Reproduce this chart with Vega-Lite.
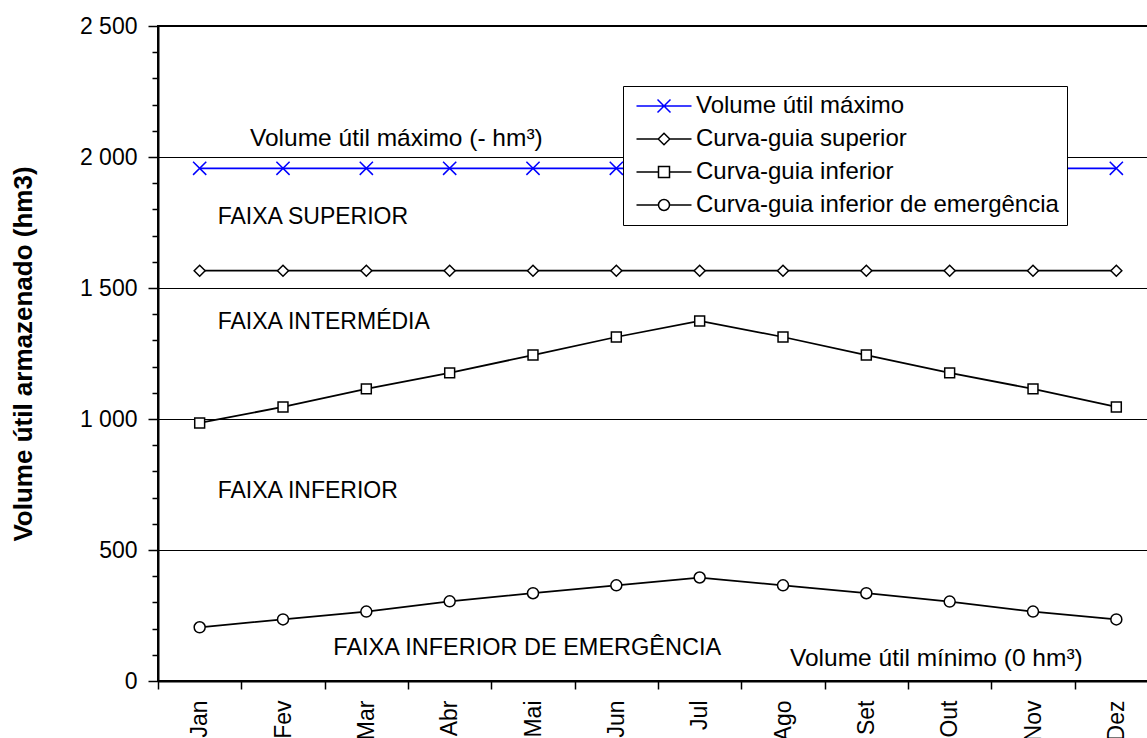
{
  "$schema": "https://vega.github.io/schema/vega-lite/v6.json",
  "width": 1000,
  "height": 655,
  "autosize": {"type": "none"},
  "padding": {"left": 158, "top": 26, "right": 0, "bottom": 60},
  "background": "white",
  "config": {
    "font": "Liberation Sans",
    "view": {"stroke": "black", "strokeWidth": 2},
    "legend": {
      "orient": "none", "legendX": 465, "legendY": 60, "title": null,
      "fillColor": "white", "strokeColor": "black", "padding": 8,
      "labelFontSize": 24, "labelColor": "black", "labelLimit": 600, "rowPadding": 9,
      "symbolOffset": 21, "labelOffset": 20, "symbolSize": 100, "symbolStrokeWidth": 1.5
    }
  },
  "datasets": {
    "curvas": [
      {"mes": "Jan", "serie": "Volume útil máximo", "valor": 1957},
      {"mes": "Fev", "serie": "Volume útil máximo", "valor": 1957},
      {"mes": "Mar", "serie": "Volume útil máximo", "valor": 1957},
      {"mes": "Abr", "serie": "Volume útil máximo", "valor": 1957},
      {"mes": "Mai", "serie": "Volume útil máximo", "valor": 1957},
      {"mes": "Jun", "serie": "Volume útil máximo", "valor": 1957},
      {"mes": "Jul", "serie": "Volume útil máximo", "valor": 1957},
      {"mes": "Ago", "serie": "Volume útil máximo", "valor": 1957},
      {"mes": "Set", "serie": "Volume útil máximo", "valor": 1957},
      {"mes": "Out", "serie": "Volume útil máximo", "valor": 1957},
      {"mes": "Nov", "serie": "Volume útil máximo", "valor": 1957},
      {"mes": "Dez", "serie": "Volume útil máximo", "valor": 1957},
      {"mes": "Jan", "serie": "Curva-guia superior", "valor": 1566},
      {"mes": "Fev", "serie": "Curva-guia superior", "valor": 1566},
      {"mes": "Mar", "serie": "Curva-guia superior", "valor": 1566},
      {"mes": "Abr", "serie": "Curva-guia superior", "valor": 1566},
      {"mes": "Mai", "serie": "Curva-guia superior", "valor": 1566},
      {"mes": "Jun", "serie": "Curva-guia superior", "valor": 1566},
      {"mes": "Jul", "serie": "Curva-guia superior", "valor": 1566},
      {"mes": "Ago", "serie": "Curva-guia superior", "valor": 1566},
      {"mes": "Set", "serie": "Curva-guia superior", "valor": 1566},
      {"mes": "Out", "serie": "Curva-guia superior", "valor": 1566},
      {"mes": "Nov", "serie": "Curva-guia superior", "valor": 1566},
      {"mes": "Dez", "serie": "Curva-guia superior", "valor": 1566},
      {"mes": "Jan", "serie": "Curva-guia inferior", "valor": 985},
      {"mes": "Fev", "serie": "Curva-guia inferior", "valor": 1046},
      {"mes": "Mar", "serie": "Curva-guia inferior", "valor": 1115},
      {"mes": "Abr", "serie": "Curva-guia inferior", "valor": 1176},
      {"mes": "Mai", "serie": "Curva-guia inferior", "valor": 1244},
      {"mes": "Jun", "serie": "Curva-guia inferior", "valor": 1313},
      {"mes": "Jul", "serie": "Curva-guia inferior", "valor": 1374},
      {"mes": "Ago", "serie": "Curva-guia inferior", "valor": 1313},
      {"mes": "Set", "serie": "Curva-guia inferior", "valor": 1244},
      {"mes": "Out", "serie": "Curva-guia inferior", "valor": 1176},
      {"mes": "Nov", "serie": "Curva-guia inferior", "valor": 1115},
      {"mes": "Dez", "serie": "Curva-guia inferior", "valor": 1046},
      {"mes": "Jan", "serie": "Curva-guia inferior de emergência", "valor": 205},
      {"mes": "Fev", "serie": "Curva-guia inferior de emergência", "valor": 235},
      {"mes": "Mar", "serie": "Curva-guia inferior de emergência", "valor": 265},
      {"mes": "Abr", "serie": "Curva-guia inferior de emergência", "valor": 304},
      {"mes": "Mai", "serie": "Curva-guia inferior de emergência", "valor": 335},
      {"mes": "Jun", "serie": "Curva-guia inferior de emergência", "valor": 365},
      {"mes": "Jul", "serie": "Curva-guia inferior de emergência", "valor": 395},
      {"mes": "Ago", "serie": "Curva-guia inferior de emergência", "valor": 365},
      {"mes": "Set", "serie": "Curva-guia inferior de emergência", "valor": 335},
      {"mes": "Out", "serie": "Curva-guia inferior de emergência", "valor": 303},
      {"mes": "Nov", "serie": "Curva-guia inferior de emergência", "valor": 265},
      {"mes": "Dez", "serie": "Curva-guia inferior de emergência", "valor": 235}
    ]
  },
  "encoding": {
    "x": {
      "field": "mes", "type": "ordinal",
      "scale": {"type": "band", "domain": ["Jan","Fev","Mar","Abr","Mai","Jun","Jul","Ago","Set","Out","Nov","Dez"], "paddingInner": 0, "paddingOuter": 0},
      "axis": {"title": null, "tickBand": "extent", "labelAngle": -90, "labelFontSize": 23, "labelColor": "black", "labelPadding": 11, "tickSize": 8, "tickColor": "black", "tickWidth": 1.5, "domainColor": "black", "domainWidth": 2, "grid": false}
    },
    "y": {
      "field": "valor", "type": "quantitative",
      "scale": {"domain": [0, 2500], "nice": false},
      "axis": {
        "title": "Volume útil armazenado (hm3)",
        "titleFontSize": 26, "titleFontWeight": "bold", "titleColor": "black", "titlePadding": 43,
        "values": [0,100,200,300,400,500,600,700,800,900,1000,1100,1200,1300,1400,1500,1600,1700,1800,1900,2000,2100,2200,2300,2400,2500],
        "labelExpr": "datum.value % 500 === 0 ? replace(format(datum.value, ',d'), ',', ' ') : ''",
        "labelOverlap": false, "labelFontSize": 23, "labelColor": "black", "labelPadding": 11,
        "tickSize": {"condition": {"test": "datum.value % 500 === 0", "value": 10}, "value": 6},
        "tickColor": "black", "tickWidth": 1.5,
        "domainColor": "black", "domainWidth": 2,
        "grid": true, "gridColor": "black", "gridWidth": 1,
        "gridOpacity": {"condition": {"test": "datum.value % 500 === 0", "value": 1}, "value": 0}
      }
    }
  },
  "layer": [
    {
      "data": {"name": "curvas"},
      "mark": {"type": "line", "strokeWidth": 1.75},
      "encoding": {
        "color": {
          "field": "serie", "type": "nominal",
          "scale": {"domain": ["Volume útil máximo", "Curva-guia superior", "Curva-guia inferior", "Curva-guia inferior de emergência"], "range": ["#0000FF", "black", "black", "black"]},
          "legend": {
            "encoding": {
              "symbols": {
                "shape": {"value": {"expr": "datum.value === 'Volume útil máximo' ? 'M -5.5 0 L 5.5 0 M -1.3 -1.3 L 1.3 1.3 M -1.3 1.3 L 1.3 -1.3' : datum.value === 'Curva-guia superior' ? 'M -5.5 0 L -1.15 0 M 1.15 0 L 5.5 0 M 0 -1.15 L 1.15 0 L 0 1.15 L -1.15 0 Z' : datum.value === 'Curva-guia inferior' ? 'M -5.5 0 L -1.1 0 M 1.1 0 L 5.5 0 M -1.1 -1.1 L 1.1 -1.1 L 1.1 1.1 L -1.1 1.1 Z' : 'M -5.5 0 L -1.1 0 M 1.1 0 L 5.5 0 M 1.1 0 A 1.1 1.1 0 1 1 -1.1 0 A 1.1 1.1 0 1 1 1.1 0 Z'"}},
                "size": {"value": 100},
                "fill": {"value": "white"},
                "strokeWidth": {"value": 1.5},
                "opacity": {"value": 1}
              }
            }
          }
        }
      }
    },
    {
      "data": {"name": "curvas"},
      "mark": {"type": "point", "filled": false, "fill": "white", "strokeWidth": 1.5, "opacity": 1, "size": 121},
      "encoding": {
        "color": {
          "field": "serie", "type": "nominal",
          "scale": {"domain": ["Volume útil máximo", "Curva-guia superior", "Curva-guia inferior", "Curva-guia inferior de emergência"], "range": ["#0000FF", "black", "black", "black"]},
          "legend": {
            "encoding": {
              "symbols": {
                "shape": {"value": {"expr": "datum.value === 'Volume útil máximo' ? 'M -5.5 0 L 5.5 0 M -1.3 -1.3 L 1.3 1.3 M -1.3 1.3 L 1.3 -1.3' : datum.value === 'Curva-guia superior' ? 'M -5.5 0 L -1.15 0 M 1.15 0 L 5.5 0 M 0 -1.15 L 1.15 0 L 0 1.15 L -1.15 0 Z' : datum.value === 'Curva-guia inferior' ? 'M -5.5 0 L -1.1 0 M 1.1 0 L 5.5 0 M -1.1 -1.1 L 1.1 -1.1 L 1.1 1.1 L -1.1 1.1 Z' : 'M -5.5 0 L -1.1 0 M 1.1 0 L 5.5 0 M 1.1 0 A 1.1 1.1 0 1 1 -1.1 0 A 1.1 1.1 0 1 1 1.1 0 Z'"}},
                "size": {"value": 100},
                "fill": {"value": "white"},
                "strokeWidth": {"value": 1.5},
                "opacity": {"value": 1}
              }
            }
          }
        },
        "shape": {
          "field": "serie", "type": "nominal",
          "scale": {"domain": ["Curva-guia inferior de emergência", "Curva-guia inferior", "Curva-guia superior", "Volume útil máximo"], "range": ["circle", "M -0.9 -0.9 L 0.9 -0.9 L 0.9 0.9 L -0.9 0.9 Z", "diamond", "M -1.2 -1.2 L 1.2 1.2 M -1.2 1.2 L 1.2 -1.2"]},
          "legend": null
        }
      }
    },
    {
      "data": {"values": [
        {"mes": "Fev", "valor": 2042, "texto": "Volume útil máximo (- hm³)"}
      ]},
      "mark": {"type": "text", "align": "left", "baseline": "alphabetic", "dx": -33, "fontSize": 24.5, "color": "black"},
      "encoding": {"text": {"field": "texto"}}
    },
    {
      "data": {"values": [
        {"mes": "Mar", "valor": 99, "texto": "FAIXA INFERIOR DE EMERGÊNCIA"}
      ]},
      "mark": {"type": "text", "align": "left", "baseline": "alphabetic", "dx": -33, "fontSize": 23.5, "color": "black"},
      "encoding": {"text": {"field": "texto"}}
    },
    {
      "data": {"values": [
        {"mes": "Jan", "valor": 1744, "texto": "FAIXA SUPERIOR"},
        {"mes": "Jan", "valor": 1342, "texto": "FAIXA INTERMÉDIA"},
        {"mes": "Jan", "valor": 698, "texto": "FAIXA INFERIOR"}
      ]},
      "mark": {"type": "text", "align": "left", "baseline": "alphabetic", "dx": 18, "fontSize": 23, "color": "black"},
      "encoding": {"text": {"field": "texto"}}
    },
    {
      "data": {"values": [
        {"mes": "Ago", "valor": 57, "texto": "Volume útil mínimo (0 hm³)"}
      ]},
      "mark": {"type": "text", "align": "left", "baseline": "alphabetic", "dx": 7, "fontSize": 24.5, "color": "black"},
      "encoding": {"text": {"field": "texto"}}
    }
  ]
}
